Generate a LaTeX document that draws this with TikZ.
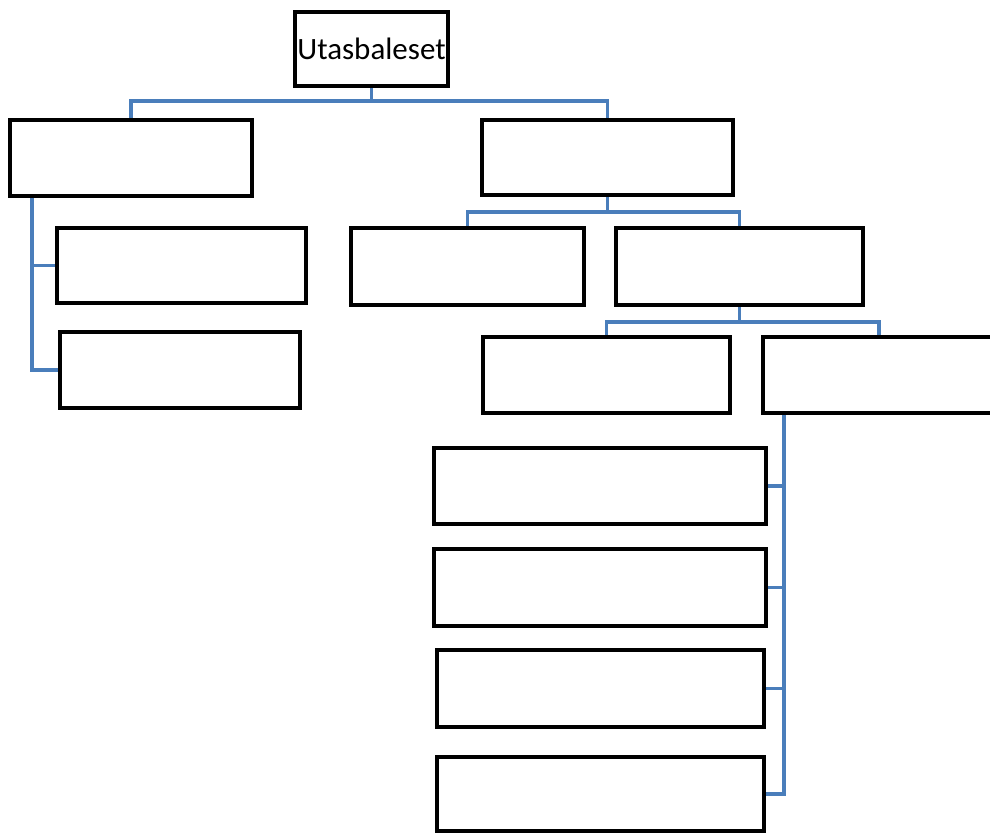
\documentclass[tikz,border=0pt]{standalone}
\usepackage{fontspec}
\setmainfont{Carlito}
\definecolor{conn}{RGB}{74,126,187}
\begin{document}
\begin{tikzpicture}[x=1pt,y=-1pt,
  box/.style={draw=black,fill=white,line width=4pt,rectangle,inner sep=0pt,minimum width=#1},
  link/.style={draw=conn,line width=3.2pt}]
\useasboundingbox (0,0) rectangle (990,833);
\clip (0,0) rectangle (990,833);
% nodes
\node[box=153pt,minimum height=74pt,font=\fontsize{31}{36}\selectfont] (root) at (371.5,49) {Utasbaleset};
\node[box=242pt,minimum height=76pt] (A) at (131,158) {};
\node[box=251pt,minimum height=75pt] (B) at (607.5,157.5) {};
\node[box=249pt,minimum height=75pt] (A1) at (181.5,265.5) {};
\node[box=240pt,minimum height=76pt] (A2) at (180,370) {};
\node[box=233pt,minimum height=77pt] (B1) at (467.5,266.5) {};
\node[box=247pt,minimum height=77pt] (B2) at (739.5,266.5) {};
\node[box=247pt,minimum height=76pt] (C1) at (606.5,375) {};
\node[box=232pt,minimum height=76pt] (C2) at (879,375) {};
\node[box=332pt,minimum height=76pt] (D1) at (600,486) {};
\node[box=332pt,minimum height=77pt] (D2) at (600,587.5) {};
\node[box=327pt,minimum height=77pt] (D3) at (600.5,688.5) {};
\node[box=327pt,minimum height=74pt] (D4) at (600.5,794) {};
% junctions
\coordinate (j0) at (371.5,101);
\coordinate (j1) at (607.5,212);
\coordinate (j2) at (739.5,322);
% connectors
\draw[link] (root.south) -- (j0);
\draw[link] (A.north) |- (j0) -| (B.north);
\draw[link] (B.south) -- (j1);
\draw[link] (B1.north) |- (j1) -| (B2.north);
\draw[link] (B2.south) -- (j2);
\draw[link] (C1.north) |- (j2) -| (C2.north);
\draw[link] ([xshift=24pt]A.south west) |- (A1.west);
\draw[link] ([xshift=24pt]A.south west) |- (A2.west);
\draw[link] ([xshift=23pt]C2.south west) |- (D1.east);
\draw[link] ([xshift=23pt]C2.south west) |- (D2.east);
\draw[link] ([xshift=23pt]C2.south west) |- (D3.east);
\draw[link] ([xshift=23pt]C2.south west) |- (D4.east);
\end{tikzpicture}
\end{document}
